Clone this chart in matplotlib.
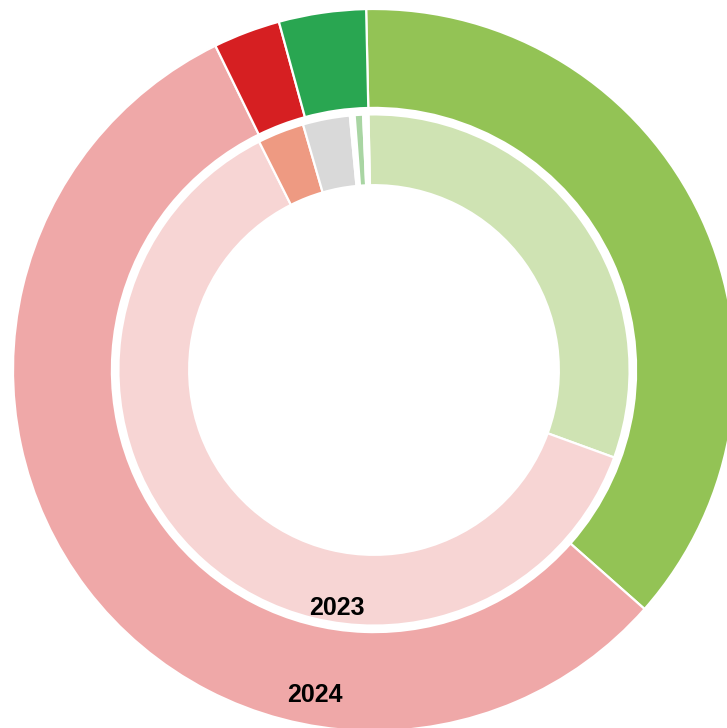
"""
Nested donut: 2024 (outer ring) vs 2023 (inner ring)
"""

import matplotlib
matplotlib.use("Agg")
import matplotlib.pyplot as plt

# outer ring (2024), clockwise from 12 o'clock
OUTER_LABELS = ["green", "pink", "red", "dark green"]
OUTER_VALUES = [36.9, 56.3, 3.0, 3.9]
OUTER_COLORS = ["#93c355", "#efa8a8", "#d61f22", "#29a651"]

# inner ring (2023), clockwise from 12 o'clock ("gap" slices are blank)
INNER_LABELS = ["light green", "light pink", "salmon", "gray", "gap", "tiny green", "gap2"]
INNER_VALUES = [30.9, 62.0, 2.94, 2.97, 0.3, 0.53, 0.33]
INNER_COLORS = ["#cfe3b3", "#f7d5d4", "#ee9a82", "#d9d9d9", "#ffffff", "#a9d5a3", "#ffffff"]

YEAR_LABELS = ["2023", "2024"]

W, H, DPI = 727, 728, 100
CX, CY, R = 374, 370, 361      # pixel centre and outer radius
CLIP_BOTTOM = 725              # plot area ends a little above the image bottom
START = 91.25                  # first slice starts just left of 12 o'clock


def main():
    fig = plt.figure(figsize=(W / DPI, H / DPI), dpi=DPI)
    fig.patch.set_facecolor("white")

    left, top = CX - R, CY - R
    ax = fig.add_axes([left / W, (H - CLIP_BOTTOM) / H,
                       (W - left) / W, (CLIP_BOTTOM - top) / H])
    ax.set_facecolor("white")

    wedge = dict(edgecolor="white", linewidth=1.6)

    ax.pie(OUTER_VALUES, colors=OUTER_COLORS, radius=1.0, startangle=START,
           counterclock=False, wedgeprops=dict(width=0.274, **wedge))
    ax.pie(INNER_VALUES, colors=INNER_COLORS, radius=0.708, startangle=START,
           counterclock=False, wedgeprops=dict(width=0.196, **wedge))

    ax.set_aspect("auto")
    ax.set_xlim(-1, (W - CX) / R)
    ax.set_ylim(-(CLIP_BOTTOM - CY) / R, 1)
    ax.axis("off")

    txt = dict(family=["Liberation Sans", "DejaVu Sans"], fontweight="bold",
               fontsize=18, color="black", ha="center", va="center")
    ax.text(-0.1025, -0.659, YEAR_LABELS[0], **txt)
    ax.text(-0.163, -0.900, YEAR_LABELS[1], **txt)

    fig.savefig("out.png", dpi=DPI, facecolor="white")
    plt.close(fig)


if __name__ == "__main__":
    main()
